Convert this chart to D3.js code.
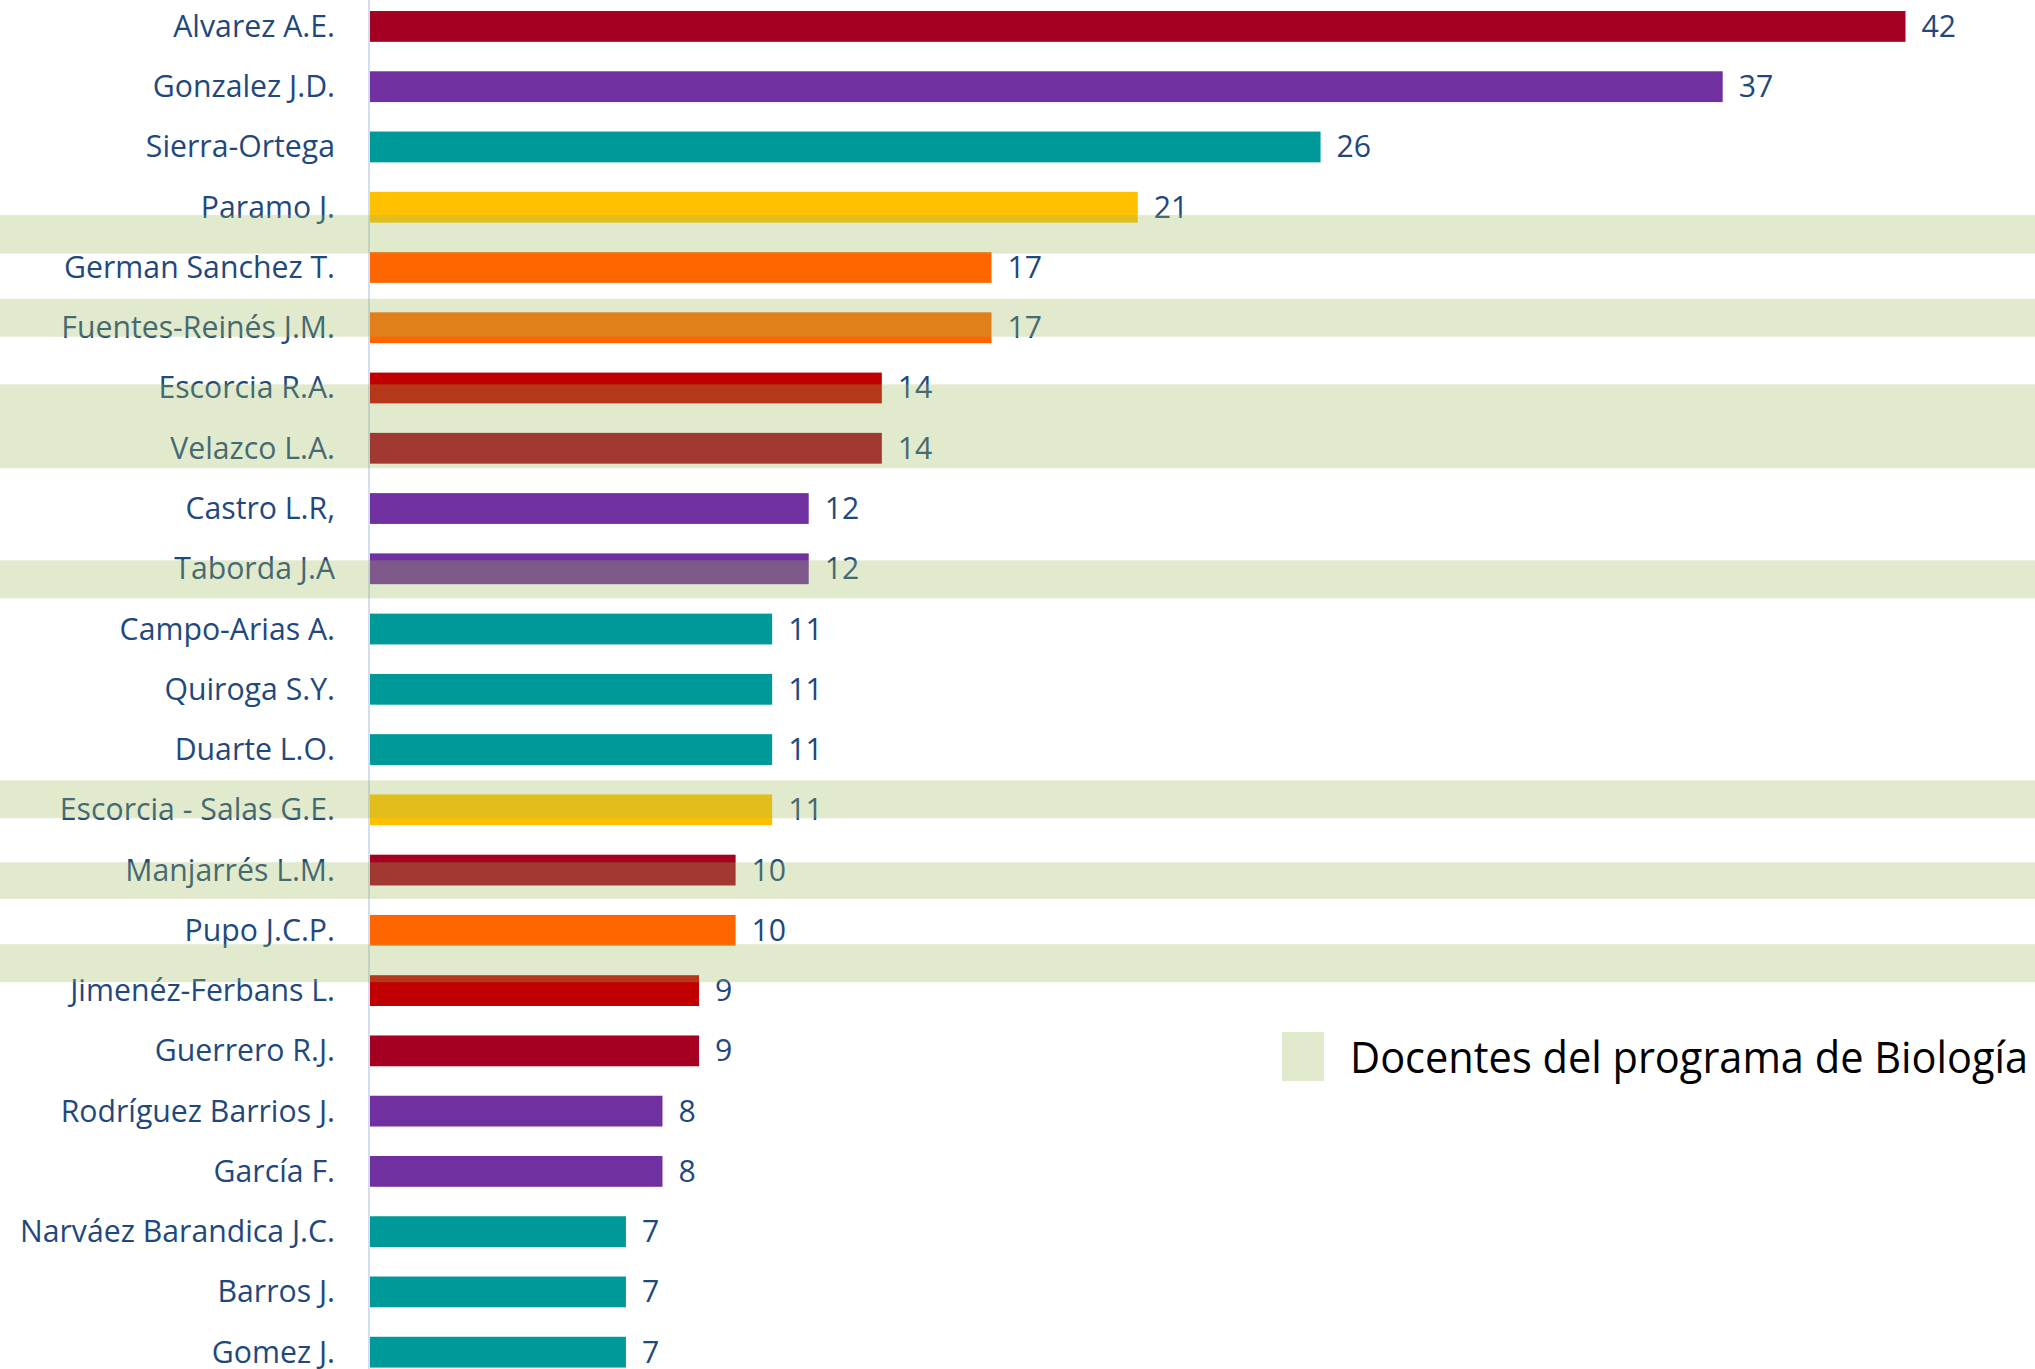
<!DOCTYPE html>
<html>
<head>
<meta charset="utf-8">
<script src="https://cdn.jsdelivr.net/npm/d3@7"></script>
<style>
  html, body { margin: 0; padding: 0; background: #ffffff; overflow: hidden; }
  svg { display: block; }
</style>
</head>
<body>
<div id="playground"></div>
<script>
// docentes, ordered as in the chart (top to bottom)
var names = [
  "Alvarez A.E.", "Gonzalez J.D.", "Sierra-Ortega", "Paramo J.", "German Sanchez T.",
  "Fuentes-Reinés J.M.", "Escorcia R.A.", "Velazco L.A.", "Castro L.R,", "Taborda J.A",
  "Campo-Arias A.", "Quiroga S.Y.", "Duarte L.O.", "Escorcia - Salas G.E.", "Manjarrés L.M.",
  "Pupo J.C.P.", "Jimenéz-Ferbans L.", "Guerrero R.J.", "Rodríguez Barrios J.", "García F.",
  "Narváez Barandica J.C.", "Barros J.", "Gomez J."
];

var counts = [42, 37, 26, 21, 17, 17, 14, 14, 12, 12, 11, 11, 11, 11, 10, 10, 9, 9, 8, 8, 7, 7, 7];

var barColors = [
  "#a50021", "#7030a0", "#009999", "#ffc000", "#ff6600",
  "#ff6600", "#c00000", "#a50021", "#7030a0", "#7030a0",
  "#009999", "#009999", "#009999", "#ffc000", "#a50021",
  "#ff6600", "#c00000", "#a50021", "#7030a0", "#7030a0",
  "#009999", "#009999", "#009999"
];

// green highlight strips laid over the chart, in row units (row 0 = first bar centre)
var highlightSpans = [
  [3.13, 3.77], [4.52, 5.15], [5.94, 7.33], [8.86, 9.49],
  [12.51, 13.14], [13.87, 14.48], [15.23, 15.86]
];

var legendLabel = "Docentes del programa de Biología";

var W = 2035, H = 1369;
var textCondense = 0.975;

var svg = d3.select("#playground").append("svg")
    .attr("width", W)
    .attr("height", H);

var x = d3.scaleLinear()
    .domain([0, 42])
    .range([370, 1905.5]);

var y = d3.scaleBand()
    .domain(names)
    .range([-3.7, 1382.3])
    .paddingInner(0.489)
    .paddingOuter(0.2445);

var rowY = d3.scaleLinear()
    .domain([0, 1])
    .range([y(names[0]) + y.bandwidth() / 2, y(names[1]) + y.bandwidth() / 2]);

// bars
svg.append("g")
    .attr("class", "bars")
    .selectAll("rect")
    .data(names)
    .enter().append("rect")
    .attr("x", x(0))
    .attr("y", function(d) { return y(d); })
    .attr("width", function(d, i) { return x(counts[i]) - x(0); })
    .attr("height", y.bandwidth())
    .attr("fill", function(d, i) { return barColors[i]; });

// category axis line
svg.append("line")
    .attr("x1", x(0) - 1).attr("x2", x(0) - 1)
    .attr("y1", 0).attr("y2", H)
    .attr("stroke", "#d3ddef")
    .attr("stroke-width", 2);

// category labels
svg.append("g")
    .attr("class", "labels")
    .attr("transform", "translate(335,0) scale(" + textCondense + ",1)")
    .selectAll("text")
    .data(names)
    .enter().append("text")
    .attr("x", 0)
    .attr("y", function(d) { return y(d) + y.bandwidth() / 2 + 10.5; })
    .attr("text-anchor", "end")
    .attr("font-family", "'Open Sans', 'Noto Sans', sans-serif")
    .attr("font-size", 31)
    .attr("fill", "#1f497d")
    .text(function(d) { return d; });

// value labels
svg.append("g")
    .attr("class", "values")
    .selectAll("text")
    .data(names)
    .enter().append("text")
    .attr("transform", function(d, i) {
        return "translate(" + (x(counts[i]) + 16) + "," + (y(d) + y.bandwidth() / 2 + 10.5) + ") scale(" + textCondense + ",1)";
    })
    .attr("font-family", "'Open Sans', 'Noto Sans', sans-serif")
    .attr("font-size", 31)
    .attr("fill", "#1f497d")
    .text(function(d, i) { return counts[i]; });

// translucent highlight strips (on top of everything)
svg.append("g")
    .attr("class", "highlights")
    .selectAll("rect")
    .data(highlightSpans)
    .enter().append("rect")
    .attr("x", 0)
    .attr("width", W)
    .attr("y", function(d) { return rowY(d[0]); })
    .attr("height", function(d) { return rowY(d[1]) - rowY(d[0]); })
    .attr("fill", "#9bbb59")
    .attr("fill-opacity", 0.3);

// legend
var legend = svg.append("g").attr("class", "legend");
legend.append("rect")
    .attr("x", 1282).attr("y", 1032)
    .attr("width", 42).attr("height", 49)
    .attr("fill", "#9bbb59")
    .attr("fill-opacity", 0.3);
legend.append("text")
    .attr("transform", "translate(1350,1073) scale(0.955,1)")
    .attr("font-family", "'Open Sans', 'Noto Sans', sans-serif")
    .attr("font-size", 43.5)
    .attr("fill", "#000000")
    .text(legendLabel);
</script>
</body>
</html>
